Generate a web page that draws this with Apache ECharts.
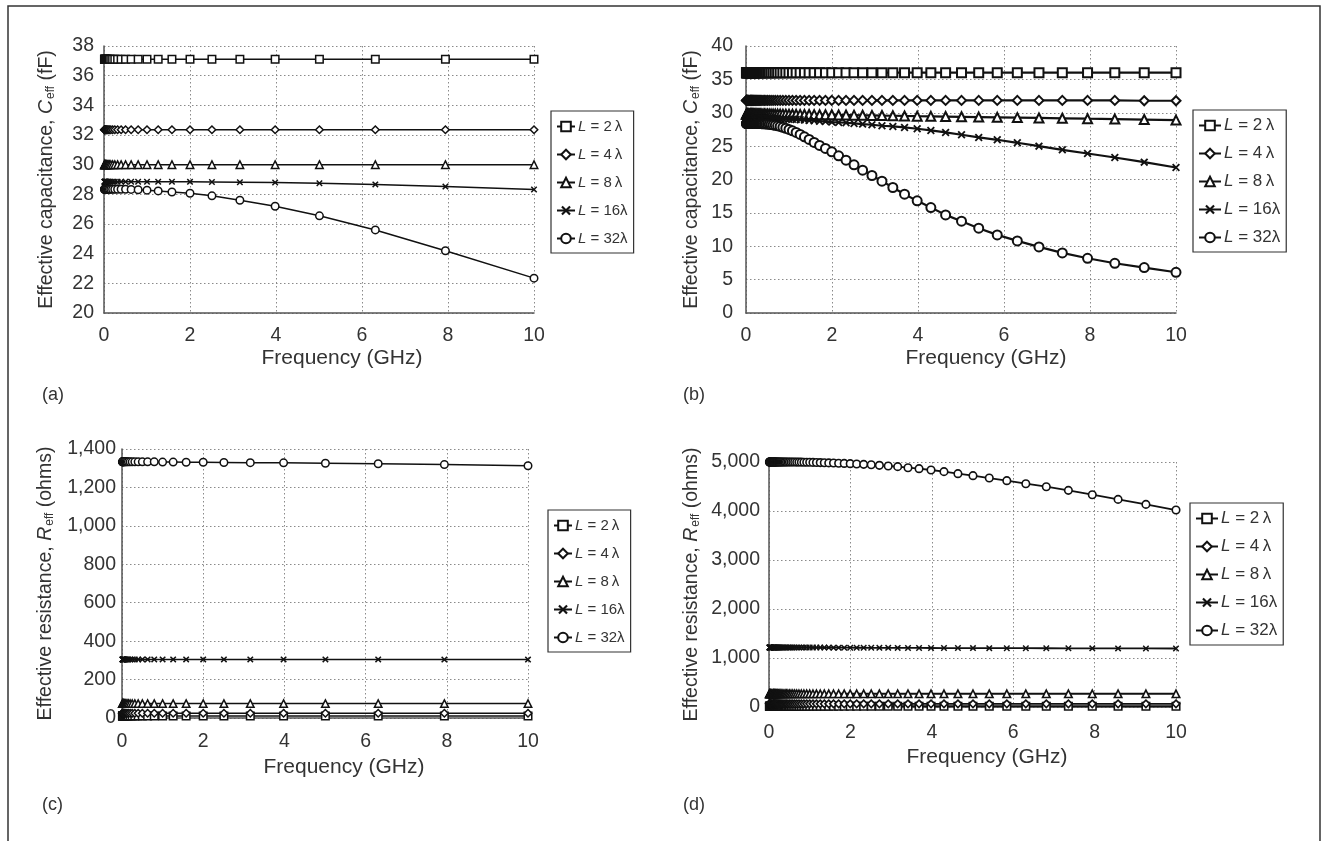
<!DOCTYPE html>
<html><head><meta charset="utf-8">
<script src="https://cdn.jsdelivr.net/npm/echarts@6/dist/echarts.min.js"></script>
<style>html,body{margin:0;padding:0;background:#fff}#c{width:1324px;height:841px}</style>
</head><body><div id="c"></div>
<script>
// Frequency samples (GHz), log spaced
const freqA = [0.01,0.0126,0.0158,0.02,0.0251,0.0316,0.0398,0.0501,0.0631,0.0794,
  0.1,0.126,0.158,0.2,0.251,0.316,0.398,0.501,0.631,0.794,
  1,1.26,1.58,2,2.51,3.16,3.98,5.01,6.31,7.94,10];
const freqB = [0.01,0.0126,0.0158,0.02,0.0251,0.0316,0.0398,0.0501,0.0631,0.0794,
  0.1,0.108,0.1166,0.1259,0.1359,0.1468,0.1585,0.1711,0.1848,0.1995,
  0.2154,0.2326,0.2512,0.2712,0.2929,0.3162,0.3415,0.3687,0.3981,0.4299,
  0.4642,0.5012,0.5412,0.5843,0.631,0.6813,0.7356,0.7943,0.8577,0.9261,
  1,1.08,1.166,1.259,1.359,1.468,1.585,1.711,1.848,1.995,
  2.154,2.326,2.512,2.712,2.929,3.162,3.415,3.687,3.981,4.299,
  4.642,5.012,5.412,5.843,6.31,6.813,7.356,7.943,8.577,9.261,10];

const legendLabels = {L2:'L = 2\u2009λ', L4:'L = 4\u2009λ', L8:'L = 8\u2009λ', L16:'L = 16λ', L32:'L = 32λ'};

// (a) Effective capacitance (fF)
const capA_L2 = [37.1,37.1,37.1,37.1,37.1,37.1,37.1,37.1,37.1,37.1,37.1,37.1,37.1,37.1,37.1,37.1,37.1,37.1,37.1,37.1,37.1,37.1,37.1,37.1,37.1,37.1,37.1,37.1,37.1,37.1,37.1];
const capA_L4 = [32.35,32.35,32.35,32.35,32.35,32.35,32.35,32.35,32.35,32.35,32.35,32.35,32.35,32.35,32.35,32.35,32.35,32.35,32.35,32.35,32.35,32.35,32.35,32.35,32.35,32.35,32.35,32.35,32.35,32.35,32.35];
const capA_L8 = [30,30,30,30,30,30,30,30,30,30,30,30,30,30,30,30,30,30,30,30,30,30,30,30,30,30,30,30,30,30,30];
const capA_L16 = [28.85,28.85,28.85,28.85,28.85,28.85,28.85,28.85,28.85,28.85,28.85,28.85,28.85,28.85,28.85,28.85,28.85,28.85,28.85,28.85,28.85,28.85,28.85,28.84,28.83,28.82,28.8,28.75,28.67,28.52,28.33];
const capA_L32 = [28.34,28.34,28.34,28.34,28.34,28.34,28.34,28.34,28.34,28.34,28.34,28.34,28.34,28.34,28.34,28.34,28.34,28.34,28.33,28.31,28.28,28.23,28.16,28.07,27.9,27.6,27.2,26.55,25.6,24.2,22.35];

// (b) Effective capacitance (fF)
const capB_L2 = [36,36,36,36,36,36,36,36,36,36,36,36,36,36,36,36,36,36,36,36,36,36,36,36,36,36,36,36,36,36,36,36,36,36,36,36,36,36,36,36,36,36,36,36,36,36,36,36,36,36,36,36,36,36,36,36,36,36,36,36,36,36,36,36,36,36,36,36,36,36,36];
const capB_L4 = [31.85,31.85,31.85,31.85,31.85,31.85,31.85,31.85,31.85,31.85,31.85,31.85,31.85,31.85,31.85,31.85,31.85,31.85,31.85,31.85,31.85,31.85,31.85,31.85,31.85,31.85,31.85,31.85,31.85,31.85,31.85,31.85,31.85,31.85,31.85,31.85,31.85,31.85,31.85,31.85,31.85,31.85,31.85,31.85,31.85,31.85,31.85,31.85,31.85,31.85,31.85,31.85,31.85,31.85,31.85,31.85,31.85,31.85,31.85,31.85,31.85,31.85,31.85,31.85,31.85,31.85,31.85,31.85,31.85,31.8,31.8];
const capB_L8 = [29.8,29.8,29.8,29.8,29.8,29.8,29.8,29.8,29.8,29.8,29.8,29.8,29.8,29.8,29.8,29.8,29.8,29.8,29.8,29.8,29.8,29.8,29.8,29.8,29.8,29.8,29.8,29.8,29.8,29.8,29.8,29.8,29.8,29.8,29.8,29.8,29.8,29.8,
  29.79,29.79,29.78,29.77,29.76,29.75,29.74,29.73,29.72,29.71,29.7,29.69,29.67,29.66,29.64,29.62,29.6,29.58,29.55,29.52,29.49,29.46,29.43,29.39,29.35,29.31,29.27,29.22,29.17,29.11,29.05,28.98,28.9];
const capB_L16 = [29.2,29.2,29.2,29.2,29.2,29.2,29.2,29.2,29.2,29.2,29.2,29.2,29.2,29.2,29.2,29.2,29.2,29.2,29.2,29.2,29.2,29.2,29.2,29.2,29.2,29.2,29.2,29.2,29.2,29.2,29.2,
  29.19,29.18,29.17,29.16,29.15,29.13,29.11,29.09,29.07,29.04,29.01,28.98,28.94,28.9,28.85,28.8,28.74,28.68,28.6,28.55,28.5,28.4,28.3,28.2,28.05,27.95,27.8,27.6,27.35,27.05,26.7,26.3,25.95,25.5,25.0,24.45,23.9,23.3,22.6,21.8];
const capB_L32 = [28.38,28.38,28.38,28.38,28.38,28.38,28.38,28.38,28.38,28.38,28.38,28.38,28.38,28.38,28.38,28.38,28.38,28.38,28.38,28.38,28.38,28.38,28.38,28.38,28.38,28.38,28.38,
  28.36,28.35,28.34,28.32,28.3,28.27,28.23,28.18,28.12,28.05,27.95,27.82,27.68,27.5,27.3,27.05,26.75,26.4,26.0,25.55,25.1,24.65,24.15,23.55,22.9,22.2,21.4,20.6,19.75,18.8,17.8,16.8,15.8,14.7,13.75,12.7,11.7,10.8,9.9,9.0,8.2,7.45,6.8,6.1];

// (c) Effective resistance (ohms)
const resC_L2 = [10,10,10,10,10,10,10,10,10,10,10,10,10,10,10,10,10,10,10,10,10,10,10,10,10,10,10,10,10,10,10];
const resC_L4 = [25,25,25,25,25,25,25,25,25,25,25,25,25,25,25,25,25,25,25,25,25,25,25,25,25,25,25,25,25,25,25];
const resC_L8 = [75,75,75,75,75,75,75,75,75,75,75,75,75,75,75,75,75,75,75,75,75,75,75,75,75,75,75,75,75,75,75];
const resC_L16 = [305,305,305,305,305,305,305,305,305,305,305,305,305,305,305,305,305,305,305,305,305,305,305,305,305,305,305,305,305,304,304];
const resC_L32 = [1333,1333,1333,1333,1333,1333,1333,1333,1333,1333,1333,1333,1333,1333,1333,1333,1333,1333,1333,1333,1332,1332,1331,1331,1330,1329,1328,1326,1323,1319,1313];

// (d) Effective resistance (ohms)
const resD_L2 = [15,15,15,15,15,15,15,15,15,15,15,15,15,15,15,15,15,15,15,15,15,15,15,15,15,15,15,15,15,15,15,15,15,15,15,15,15,15,15,15,15,15,15,15,15,15,15,15,15,15,15,15,15,15,15,15,15,15,15,15,15,15,15,15,15,15,15,15,15,15,15];
const resD_L4 = [65,65,65,65,65,65,65,65,65,65,65,65,65,65,65,65,65,65,65,65,65,65,65,65,65,65,65,65,65,65,65,65,65,65,65,65,65,65,65,65,65,65,65,65,65,65,65,65,65,65,65,65,65,65,65,65,65,65,65,65,65,65,65,65,65,65,65,65,65,65,65];
const resD_L8 = [270,270,270,270,270,270,270,270,270,270,270,270,270,270,270,270,270,270,270,270,270,270,270,270,270,270,270,270,270,270,270,270,270,270,270,270,270,270,270,270,270,270,270,270,270,270,270,270,270,270,270,270,270,270,270,270,270,270,270,270,270,270,270,270,270,270,270,270,270,270,270];
const resD_L16 = [1215,1215,1215,1215,1215,1215,1215,1215,1215,1215,1215,1215,1215,1215,1215,1215,1215,1215,1215,1215,1215,1215,1215,1215,1215,1215,1215,1215,1215,1215,1215,1215,1215,1215,1215,1215,1215,1215,1215,1215,1215,
  1214,1213,1213,1212,1212,1211,1211,1210,1210,1209,1209,1208,1207,1207,1206,1205,1205,1204,1203,1203,1202,1201,1200,1200,1199,1198,1197,1196,1195,1194];
const resD_L32 = [5000,5000,5000,5000,5000,5000,5000,5000,5000,5000,5000,5000,5000,5000,5000,5000,5000,5000,5000,5000,5000,5000,5000,5000,5000,5000,5000,5000,5000,5000,5000,5000,5000,
  4999,4999,4998,4998,4997,4996,4995,4994,4992,4990,4988,4985,4982,4979,4975,4971,4966,4959,4952,4944,4932,4918,4905,4884,4864,4837,4803,4762,4721,4673,4619,4557,4496,4421,4332,4237,4135,4019];

const FONT = 'Liberation Sans';
const TXT = '#333';
const CROSS = 'path://M0,1.6L1.6,0L5,3.4L8.4,0L10,1.6L6.6,5L10,8.4L8.4,10L5,6.6L1.6,10L0,8.4L3.4,5Z';
const SYMBOLS = {L2:'rect', L4:'diamond', L8:'triangle', L16:CROSS, L32:'circle'};
const KEYS = ['L2','L4','L8','L16','L32'];

const panels = [
  {id:'a', grid:{left:104, top:46, width:430, height:267}, y:{min:20,max:38,interval:2},
   freq:freqA, data:[capA_L2,capA_L4,capA_L8,capA_L16,capA_L32],
   yName:'{n|Effective capacitance, }{i|C}{s|eff}{n| (fF)}', yGap:47, xGap:35, xShift:46, yLabMargin:10, xLabMargin:13,
   lw:1.5, bw:1.5, ss:7.5, legend:{left:551, top:111}, lfs:15, liw:18},
  {id:'b', grid:{left:746, top:46, width:430, height:267}, y:{min:0,max:40,interval:5},
   freq:freqB, data:[capB_L2,capB_L4,capB_L8,capB_L16,capB_L32],
   yName:'{n|Effective capacitance, }{i|C}{s|eff}{n| (fF)}', yGap:44, xGap:35, xShift:50, yLabMargin:13, xLabMargin:13,
   lw:2.2, bw:2, ss:9, legend:{left:1193, top:110}, lfs:17, liw:22},
  {id:'c', grid:{left:122, top:449, width:406, height:269}, y:{min:0,max:1400,interval:200},
   freq:freqA, data:[resC_L2,resC_L4,resC_L8,resC_L16,resC_L32],
   yName:'{n|Effective resistance, }{i|R}{s|eff}{n| (ohms)}', yGap:66, xGap:39, xShift:38, yLabMargin:6, xLabMargin:14,
   lw:1.5, bw:1.5, ss:7.5, legend:{left:548, top:510}, lfs:15, liw:18},
  {id:'d', grid:{left:769, top:462, width:407, height:245}, y:{min:0,max:5000,interval:1000},
   freq:freqB, data:[resD_L2,resD_L4,resD_L8,resD_L16,resD_L32],
   yName:'{n|Effective resistance, }{i|R}{s|eff}{n| (ohms)}', yGap:67, xGap:40, xShift:29, yLabMargin:9, xLabMargin:16,
   lw:1.8, bw:1.6, ss:7.5, legend:{left:1190, top:503}, lfs:17, liw:22}
];

function commas(v){ return String(v).replace(/\B(?=(\d{3})+(?!\d))/g, ','); }

const grids = [], xAxes = [], yAxes = [], series = [], legends = [];
const nameRich = {
  n:{fontFamily:FONT, fontSize:19.5, color:TXT},
  i:{fontFamily:FONT, fontSize:19.5, color:TXT, fontStyle:'italic'},
  s:{fontFamily:FONT, fontSize:12, color:TXT, padding:[9,0,0,1]}
};
panels.forEach((p, pi) => {
  grids.push(Object.assign({containLabel:false}, p.grid));
  const splitLine = {show:true, lineStyle:{color:'#8a8a8a', type:[1.5,2.5], width:1}};
  xAxes.push({type:'value', gridIndex:pi, min:0, max:10, interval:2,
    axisLine:{show:true, onZero:false, lineStyle:{color:'#555', width:1.5}}, axisTick:{show:false},
    axisLabel:{fontFamily:FONT, fontSize:19.5, color:TXT, margin:p.xLabMargin},
    splitLine:splitLine,
    name:'Frequency (GHz)', nameLocation:'middle', nameGap:p.xGap,
    nameTextStyle:{fontFamily:FONT, fontSize:21, color:TXT, padding:[0,0,0,p.xShift]}});
  yAxes.push({type:'value', gridIndex:pi, min:p.y.min, max:p.y.max, interval:p.y.interval,
    axisLine:{show:true, onZero:false, lineStyle:{color:'#555', width:1.5}}, axisTick:{show:false},
    axisLabel:{fontFamily:FONT, fontSize:19.5, color:TXT, margin:p.yLabMargin, formatter:v=>commas(v)},
    splitLine:splitLine,
    name:p.yName, nameLocation:'middle', nameGap:p.yGap, nameRotate:90,
    nameTextStyle:{rich:nameRich}});
  const names = [];
  KEYS.forEach((k, ki) => {
    const nm = p.id + '|' + k;
    names.push(nm);
    const isCross = k === 'L16';
    series.push({type:'line', name:nm, xAxisIndex:pi, yAxisIndex:pi,
      data:p.freq.map((f, i) => [f, p.data[ki][i]]),
      symbol:SYMBOLS[k], symbolSize:isCross ? p.ss-1 : p.ss, showAllSymbol:true,
      color:'#111',
      lineStyle:{color:'#111', width:p.lw},
      itemStyle: isCross ? {color:'#111', borderWidth:0} : {color:'#fff', borderColor:'#111', borderWidth:p.bw},
      emphasis:{disabled:true}, z:2+ki});
  });
  legends.push({orient:'vertical', left:p.legend.left, top:p.legend.top, data:names,
    backgroundColor:'#fff', borderColor:'#333', borderWidth:1.2, padding:[6,6,5,5],
    itemWidth:p.liw, itemHeight:12, itemGap:9, selectedMode:false,
    formatter: nm => {
      const lab = legendLabels[nm.split('|')[1]];
      return '{i|L}{n|' + lab.slice(1) + '}';
    },
    textStyle:{fontFamily:FONT, fontSize:p.lfs, color:TXT, lineHeight:19, padding:[0,0,0,-2],
      rich:{i:{fontFamily:FONT, fontSize:p.lfs, fontStyle:'italic', color:TXT, lineHeight:19},
            n:{fontFamily:FONT, fontSize:p.lfs, color:TXT, lineHeight:19}}}});
});

const LBL = '18px "Liberation Sans"';
const graphic = [
  {type:'polyline', shape:{points:[[8,841],[8,6],[1320,6],[1320,841]]}, style:{stroke:'#333', lineWidth:1.5, fill:null}, silent:true},
  {type:'text', left:42, top:386, style:{text:'(a)', font:LBL, fill:TXT}},
  {type:'text', left:683, top:386, style:{text:'(b)', font:LBL, fill:TXT}},
  {type:'text', left:42, top:796, style:{text:'(c)', font:LBL, fill:TXT}},
  {type:'text', left:683, top:796, style:{text:'(d)', font:LBL, fill:TXT}}
];

const chart = echarts.init(document.getElementById('c'), null, {renderer:'canvas'});
chart.setOption({animation:false, backgroundColor:'#fff', grid:grids, xAxis:xAxes, yAxis:yAxes,
  series:series, legend:legends, graphic:graphic});
</script></body></html>
